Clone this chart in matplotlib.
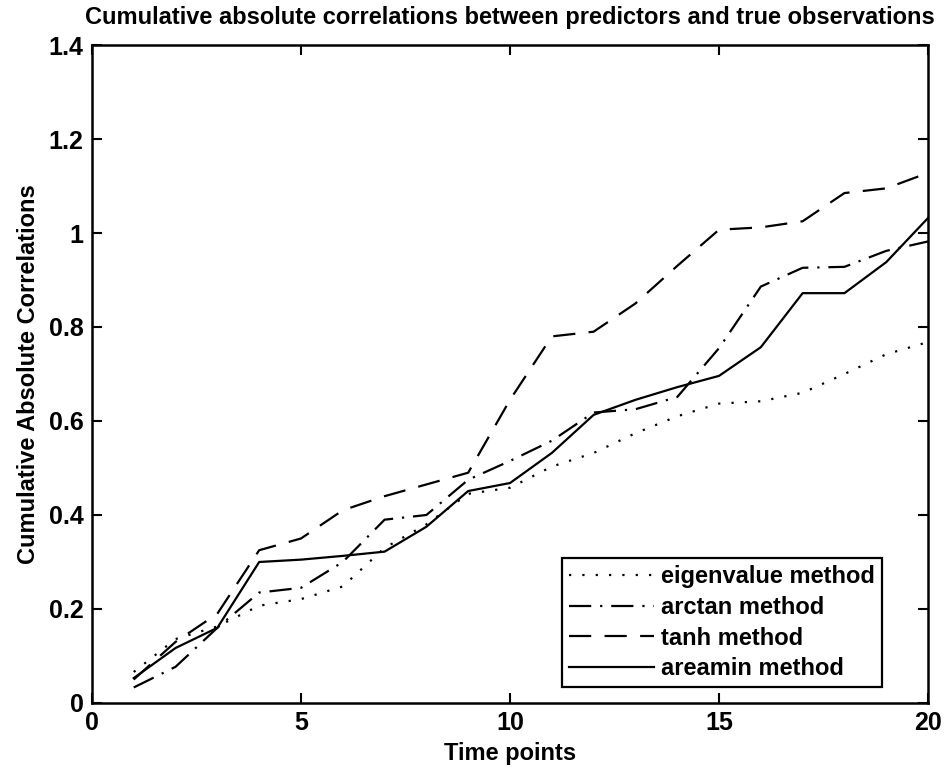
import numpy as np
import matplotlib
matplotlib.use("Agg")
import matplotlib.pyplot as plt

plt.rcParams["font.family"] = ["Liberation Sans", "DejaVu Sans"]

t = np.arange(1, 21)

eigenvalue = [0.066, 0.136, 0.163, 0.207, 0.221, 0.248, 0.33, 0.38, 0.445, 0.458,
              0.503, 0.532, 0.574, 0.61, 0.637, 0.642, 0.66, 0.70, 0.742, 0.768]
arctan = [0.033, 0.077, 0.16, 0.235, 0.245, 0.30, 0.39, 0.40, 0.475, 0.515,
          0.558, 0.618, 0.625, 0.651, 0.755, 0.886, 0.926, 0.928, 0.962, 0.982]
tanh = [0.05, 0.13, 0.19, 0.325, 0.35, 0.41, 0.44, 0.465, 0.49, 0.645,
        0.78, 0.79, 0.85, 0.93, 1.007, 1.012, 1.025, 1.085, 1.095, 1.128]
areamin = [0.053, 0.117, 0.16, 0.30, 0.305, 0.313, 0.322, 0.375, 0.451, 0.468,
           0.532, 0.613, 0.645, 0.672, 0.696, 0.757, 0.872, 0.872, 0.938, 1.032]

series = [
    (eigenvalue, (0, (1, 5)), "eigenvalue method"),
    (arctan, (0, (10, 4, 1, 4)), "arctan method"),
    (tanh, (0, (10, 6)), "tanh method"),
    (areamin, "-", "areamin method"),
]

fig = plt.figure(figsize=(9.47, 7.72), dpi=100)
ax = fig.add_axes([0.0971, 0.0894, 0.8829, 0.8523])

for vals, ls, lab in series:
    ax.plot(t, vals, color="black", linestyle=ls, linewidth=1.6, label=lab)

ax.set_xlim(0, 20)
ax.set_ylim(0, 1.4)
ax.set_xticks([0, 5, 10, 15, 20])
ax.set_yticks([0, 0.2, 0.4, 0.6, 0.8, 1.0, 1.2, 1.4])
ax.set_yticklabels(["0", "0.2", "0.4", "0.6", "0.8", "1", "1.2", "1.4"])
ax.tick_params(direction="in", top=True, right=True, length=7, width=1.5,
               labelsize=18, pad=6)
for lbl in ax.get_xticklabels() + ax.get_yticklabels():
    lbl.set_fontweight("bold")
for sp in ax.spines.values():
    sp.set_linewidth(1.8)

ax.set_xlabel("Time points", fontsize=17, fontweight="bold", labelpad=5)
ax.set_ylabel("Cumulative Absolute Correlations", fontsize=17, fontweight="bold", labelpad=6)
ax.set_title("Cumulative absolute correlations between predictors and true observations",
             fontsize=17, fontweight="bold", pad=15)

leg = ax.legend(loc="lower right", bbox_to_anchor=(0.945, 0.024),
                prop={"weight": "bold", "size": 17}, fancybox=False, framealpha=1,
                edgecolor="black", handlelength=3.6, borderpad=0.3,
                labelspacing=0.32, handletextpad=0.3, borderaxespad=0)
leg.get_frame().set_linewidth(1.6)

fig.savefig("out.png", dpi=100)
